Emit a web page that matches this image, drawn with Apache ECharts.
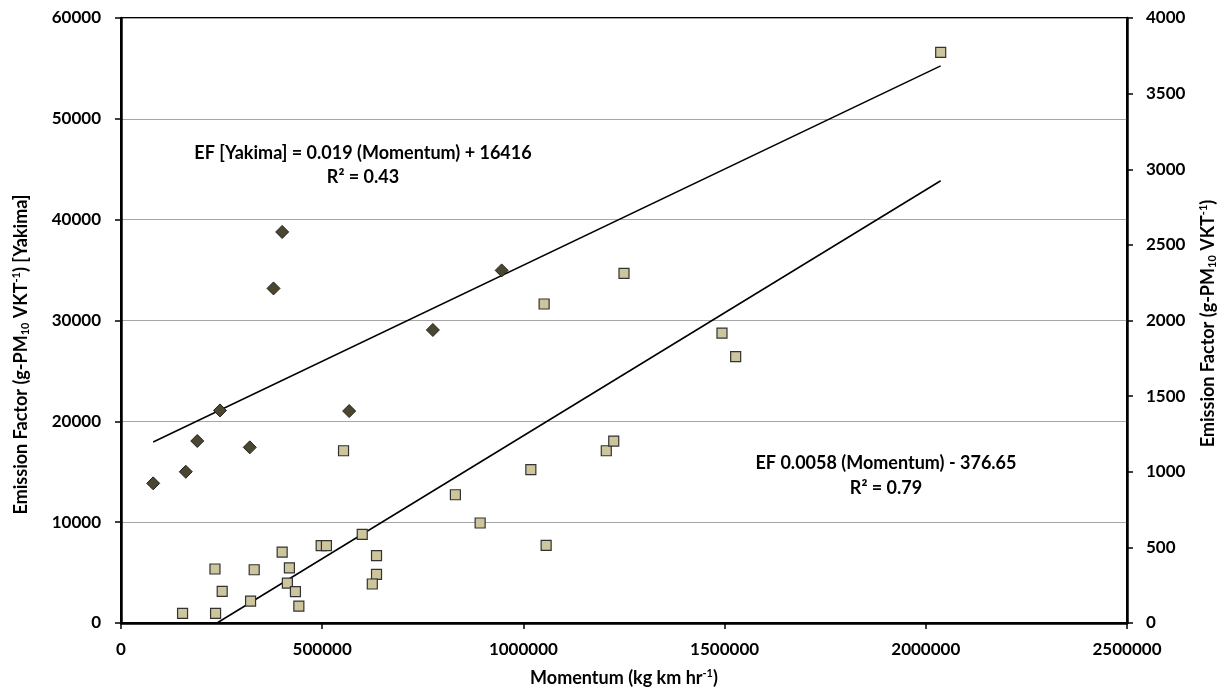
<!DOCTYPE html>
<html><head><meta charset="utf-8">
<script src="https://cdn.jsdelivr.net/npm/echarts@6/dist/echarts.min.js"></script>
<style>html,body{margin:0;padding:0;background:#fff}#c{width:1222px;height:688px}</style>
</head><body><div id="c"></div>
<script>
// Yakima (left axis) – diamonds
const yakimaX = [80000, 161000, 189500, 246000, 320000, 379000, 400500, 567000, 775000, 946000];
const yakimaY = [13850, 15000, 18050, 21080, 17420, 33180, 38780, 21020, 29060, 34970];
// Second data set (right axis) – squares
const otherX = [153000, 233500, 235000, 251500, 322000, 331000, 400500, 418500, 413500, 433500, 442000,
  497500, 510500, 553000, 599500, 635000, 635000, 624500, 831000, 892500, 1018500, 1051500, 1056500,
  1206000, 1224500, 1250000, 1493500, 1527500, 2037000];
const otherY = [63, 357, 63, 209, 145, 352, 469, 364, 264, 207, 112,
  511, 511, 1139, 586, 445, 321, 258, 848, 661, 1014, 2109, 513,
  1139, 1203, 2312, 1917, 1761, 3773];
// Trend line end points
const trendYakimaX = [80000, 2037000];
const trendYakimaY = [17950, 55250];
const trendOtherX = [238500, 2037000];
const trendOtherY = [0, 2924];

const font = 'Lato, "Open Sans", sans-serif';
const zip = (a, b) => a.map((v, i) => [v, b[i]]);
const lbl = { fontFamily: font, fontWeight: 'bold', fontSize: 17, color: '#000' };
const richName = {
  a: { fontFamily: font, fontWeight: 'bold', fontSize: 18, color: '#000' },
  sub: { fontFamily: font, fontWeight: 'bold', fontSize: 11, color: '#000', padding: [9, 0, 0, 0] },
  sup: { fontFamily: font, fontWeight: 'bold', fontSize: 11, color: '#000', padding: [0, 0, 9, 0] }
};

const chart = echarts.init(document.getElementById('c'));
chart.setOption({
  animation: false,
  backgroundColor: '#fff',
  grid: { left: 121, right: 95, top: 18, bottom: 65, containLabel: false, outerBoundsMode: 'none',
    show: true, borderColor: '#000', borderWidth: 2, backgroundColor: 'transparent' },
  xAxis: {
    type: 'value', min: 0, max: 2500000, interval: 500000,
    name: '{a|Momentum (kg km hr}{sup|-1}{a|)}',
    nameLocation: 'middle', nameGap: 45,
    nameTextStyle: { rich: richName },
    axisLine: { onZero: false, lineStyle: { color: '#000', width: 2.5 } },
    axisTick: { show: true, inside: false, length: 6, lineStyle: { color: '#000', width: 1.5 } },
    splitLine: { show: false },
    axisLabel: Object.assign({ margin: 18, formatter: v => String(v) }, lbl)
  },
  yAxis: [{
    type: 'value', min: 0, max: 60000, interval: 10000, position: 'left',
    name: '{a|Emission Factor (g-PM}{sub|10}{a| VKT}{sup|-1}{a|) [Yakima]}',
    nameLocation: 'middle', nameGap: 90, nameRotate: 90,
    nameTextStyle: { rich: richName, padding: [0, 68, 0, 0] },
    axisLine: { show: true, lineStyle: { color: '#000', width: 2.5 } },
    axisTick: { show: true, length: 6, lineStyle: { color: '#000', width: 1.5 } },
    splitLine: { show: true, lineStyle: { color: '#a6a6a6', width: 1 } },
    axisLabel: Object.assign({ margin: 20, formatter: v => String(v) }, lbl)
  }, {
    type: 'value', min: 0, max: 4000, interval: 500, position: 'right',
    name: '{a|Emission Factor (g-PM}{sub|10}{a| VKT}{sup|-1}{a|)}',
    nameLocation: 'middle', nameGap: 71, nameRotate: 90,
    nameTextStyle: { rich: richName, padding: [0, 6, 0, 0] },
    axisLine: { show: true, lineStyle: { color: '#000', width: 2.5 } },
    axisTick: { show: true, length: 6, lineStyle: { color: '#000', width: 1.5 } },
    splitLine: { show: false },
    axisLabel: Object.assign({ margin: 19, formatter: v => String(v) }, lbl)
  }],
  series: [
    { type: 'line', yAxisIndex: 0, data: zip(trendYakimaX, trendYakimaY), showSymbol: false, symbol: 'none',
      lineStyle: { color: '#000', width: 1.5 }, z: 2 },
    { type: 'line', yAxisIndex: 1, data: zip(trendOtherX, trendOtherY), showSymbol: false, symbol: 'none',
      lineStyle: { color: '#000', width: 1.5 }, z: 2 },
    { type: 'scatter', yAxisIndex: 0, data: zip(yakimaX, yakimaY), symbol: 'diamond', symbolSize: 13,
      itemStyle: { color: '#4b4630', borderColor: '#222', borderWidth: 1, opacity: 1 }, z: 3 },
    { type: 'scatter', yAxisIndex: 1, data: zip(otherX, otherY), symbol: 'rect', symbolSize: 10,
      itemStyle: { color: '#cdc59c', borderColor: '#333', borderWidth: 1.2, opacity: 1 }, z: 3 }
  ],
  graphic: [
    { type: 'text', x: 363, y: 165, style: { text: 'EF [Yakima] = 0.019 (Momentum) + 16416\nR² = 0.43',
      align: 'center', verticalAlign: 'middle', font: 'bold 18px ' + font, fill: '#000', lineHeight: 24 } },
    { type: 'text', x: 886, y: 476, style: { text: 'EF 0.0058 (Momentum) - 376.65\nR² = 0.79',
      align: 'center', verticalAlign: 'middle', font: 'bold 18px ' + font, fill: '#000', lineHeight: 25 } }
  ]
});
</script></body></html>
